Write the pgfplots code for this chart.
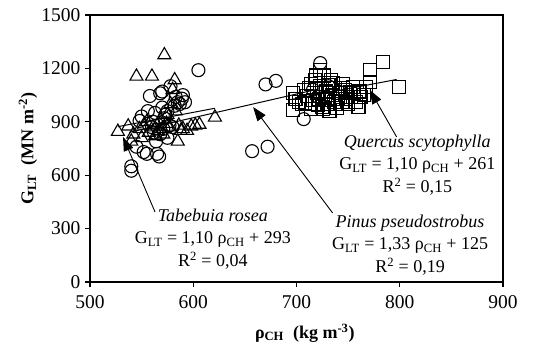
\documentclass[border=0pt]{standalone}
\usepackage{fontspec}
\setmainfont{Liberation Serif}
\usepackage{pgfplots}
\pgfplotsset{compat=1.18}
\usetikzlibrary{arrows.meta}
\begin{document}
\begin{tikzpicture}
\useasboundingbox (0,0) rectangle (546bp,349bp);
\begin{axis}[
  at={(90bp,67bp)}, anchor=south west,
  scale only axis, width=413bp, height=267bp,
  xmin=500, xmax=900, ymin=0, ymax=1500,
  xtick={500,600,...,900}, ytick={0,300,...,1500},
  tick align=outside, major tick length=5bp,
  xtick pos=bottom, ytick pos=left,
  axis line style={line width=1.3bp},
  tick style={line width=1.3bp, black},
  /pgf/number format/assume math mode=true,
  /pgf/number format/1000 sep={},
  ticklabel style={font=\fontsize{19.5bp}{21bp}\selectfont},
  xticklabel style={yshift=-5bp},
  yticklabel style={xshift=-1bp},
  xlabel={\textbf{ρ\textsubscript{CH}\ \ (kg m\textsuperscript{-3})}},
  ylabel={\textbf{G\textsubscript{LT}\ \ (MN m\textsuperscript{-2})}},
  label style={font=\fontsize{18bp}{20bp}\selectfont},
  xlabel style={at={(axis description cs:0.52,-0.191)}, anchor=center},
  ylabel style={at={(axis description cs:-0.150,0.5)}, anchor=center},
  clip=false,
]
% Tabebuia rosea (triangles)
\addplot[only marks, mark=triangle, mark size=7.5bp, mark options={draw=black, fill=none, line width=1.1bp}] coordinates {
(527,845) (537,875) (540,790) (542,830) (545,1155) (548,860) (550,810) (552,880)
(555,900) (557,840) (560,1155) (561,870) (563,820) (565,880) (566,850) (568,910)
(570,860) (571,830) (572,1275) (574,890) (575,940) (577,870) (578,1000) (580,1080)
(582,1135) (583,960) (585,790) (586,880) (588,850) (590,860) (594,850) (598,875)
(602,880) (606,885) (621,925)
};
% Pinus pseudostrobus (circles)
\addplot[only marks, mark=o, mark size=6.5bp, mark options={draw=black, fill=none, line width=1.1bp}] coordinates {
(540,650) (540,625) (545,760) (548,905) (550,930) (552,730) (555,720) (556,960)
(558,1045) (560,870) (561,900) (562,840) (563,950) (564,790) (565,720) (567,705)
(568,1060) (568,830) (570,1070) (570,980) (571,860) (572,920) (573,940) (575,960)
(575,810) (577,880) (578,1100) (580,870) (582,990) (583,1040) (585,1010) (587,1000)
(589,1030) (590,1050) (592,1010) (605,1190) (657,735) (672,760) (670,1110) (680,1130)
(707,915) (723,1230) (716,1080) (731,1100) (721,1040) (741,1070)
};
% Quercus scytophylla (squares)
\addplot[only marks, mark=square, mark size=6.5bp, mark options={draw=black, fill=none, line width=1.1bp}] coordinates {
(697,1060) (697,966) (699,1030) (702,1010) (705,1000) (707,1079) (708,1004) (710,1045)
(712,1090) (714,970) (716,1020) (718,1135) (719,1160) (720,1060) (721,995) (723,1191)
(723,1100) (725,985) (726,1040) (727,1160) (728,1022) (729,1070) (730,1000) (731,1107)
(732,960) (733,1135) (734,1050) (736,1013) (737,1090) (738,1000) (739,976) (740,1030)
(741,1060) (742,1041) (744,1010) (745,1090) (747,1079) (748,1030) (750,1000) (752,1069)
(753,1040) (755,1097) (756,1060) (758,1010) (760,985) (761,1070) (762,1041) (765,1050)
(767,1097) (771,1125) (771,1191) (784,1238) (799,1097) (714,1110) (735,1120) (745,1110)
(730,1020) (722,1030) (718,1000) (726,970)
};
% regression lines
\addplot[black, line width=1bp] coordinates {(527,872.7) (621,976.1)};
\addplot[black, line width=1bp] coordinates {(538,840.5) (722,1085.3)};
\addplot[black, line width=1bp] coordinates {(695,1025.5) (797,1137.7)};
% arrows
\draw[black, line width=0.9bp, -{Triangle[length=14bp,width=10bp]}] (axis cs:563,393) -- (axis cs:532,815);
\draw[black, line width=0.9bp, -{Triangle[length=14bp,width=10bp]}] (axis cs:735,388) -- (axis cs:658,983);
\draw[black, line width=0.9bp, -{Triangle[length=14bp,width=10bp]}] (axis cs:797,815) -- (axis cs:771,1079);
% annotations
\node[align=center, font=\fontsize{18bp}{22.5bp}\selectfont, inner sep=0pt] at (axis cs:619,241.6)
  {\textit{Tabebuia rosea}\\G\textsubscript{LT} = 1,10 ρ\textsubscript{CH} + 293\\R\textsuperscript{2} = 0,04};
\node[align=center, font=\fontsize{18bp}{22.5bp}\selectfont, inner sep=0pt] at (axis cs:810,208)
  {\textit{Pinus pseudostrobus}\\G\textsubscript{LT} = 1,33 ρ\textsubscript{CH} + 125\\R\textsuperscript{2} = 0,19};
\node[align=center, font=\fontsize{18bp}{22.5bp}\selectfont, inner sep=0pt] at (axis cs:817,657)
  {\textit{Quercus scytophylla}\\G\textsubscript{LT} = 1,10 ρ\textsubscript{CH} + 261\\R\textsuperscript{2} = 0,15};
\end{axis}
\end{tikzpicture}
\end{document}
